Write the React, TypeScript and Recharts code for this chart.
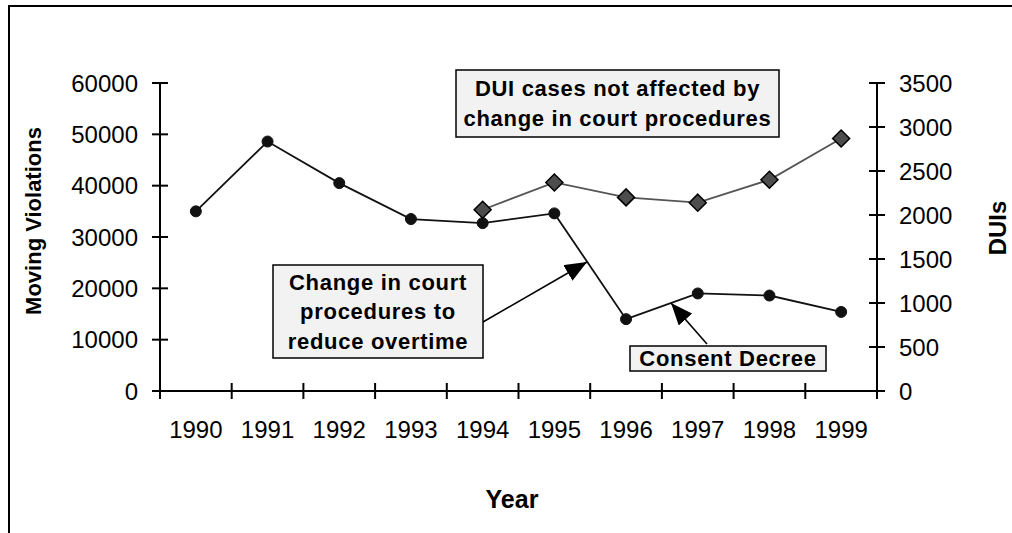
import { LineChart, Line, XAxis, YAxis } from "recharts";

const years = ["1990", "1991", "1992", "1993", "1994", "1995", "1996", "1997", "1998", "1999"];
const movingViolations = [35000, 48600, 40500, 33500, 32700, 34600, 14000, 19000, 18600, 15400];
const duiCases: (number | null)[] = [null, null, null, null, 2060, 2370, 2200, 2140, 2400, 2870];
const leftTicks = [0, 10000, 20000, 30000, 40000, 50000, 60000];
const rightTicks = [0, 500, 1000, 1500, 2000, 2500, 3000, 3500];

// each year sits in the middle of its slot; tick marks go on the slot edges
const data = years.map((year, i) => ({
  pos: i + 0.5,
  year,
  moving: movingViolations[i],
  dui: duiCases[i],
}));
const slotEdges = years.map((_, i) => i).concat(years.length);
const xTicks = [...slotEdges, ...data.map((d) => d.pos)].sort((a, b) => a - b);

const FONT = "'Liberation Sans', Arial, sans-serif";
const TICK = 8;

function XTick({ x, y, payload }: any) {
  const v = payload.value as number;
  if (Number.isInteger(v)) {
    return <line x1={x} x2={x} y1={y - TICK} y2={y + TICK} stroke="#000" strokeWidth={2} />;
  }
  return (
    <text x={x} y={y + 47} textAnchor="middle" fontSize={24} fontFamily={FONT} fill="#000">
      {years[Math.floor(v)]}
    </text>
  );
}

function LeftTick({ x, y, payload }: any) {
  return (
    <g>
      <line x1={x - TICK} x2={x + TICK} y1={y} y2={y} stroke="#000" strokeWidth={2} />
      <text x={x - 22} y={y} dy="0.36em" textAnchor="end" fontSize={24} fontFamily={FONT} fill="#000">
        {payload.value}
      </text>
    </g>
  );
}

function RightTick({ x, y, payload }: any) {
  return (
    <g>
      <line x1={x - TICK} x2={x + TICK} y1={y} y2={y} stroke="#000" strokeWidth={2} />
      <text x={x + 22} y={y} dy="0.36em" textAnchor="start" fontSize={24} fontFamily={FONT} fill="#000">
        {payload.value}
      </text>
    </g>
  );
}

function Diamond(props: any) {
  const { cx, cy, index } = props;
  if (cx == null || cy == null) return <g key={index} />;
  const r = 8.5;
  return (
    <polygon
      key={index}
      points={`${cx},${cy - r} ${cx + r},${cy} ${cx},${cy + r} ${cx - r},${cy}`}
      fill="#4d4d4d"
      stroke="#000"
      strokeWidth={1.5}
    />
  );
}

// annotation boxes drawn over the chart
function NoteBox({ x, y, w, h, lines, lineGap }: { x: number; y: number; w: number; h: number; lines: string[]; lineGap: number }) {
  const cx = x + w / 2;
  const first = y + h / 2 - ((lines.length - 1) * lineGap) / 2;
  return (
    <g>
      <rect x={x} y={y} width={w} height={h} fill="#f2f2f2" stroke="#000" strokeWidth={1.5} />
      {lines.map((t, i) => (
        <text
          key={t}
          x={cx}
          y={first + i * lineGap}
          dy="0.36em"
          textAnchor="middle"
          fontSize={22}
          fontWeight="bold"
          letterSpacing={0.7}
          fontFamily={FONT}
          fill="#000"
        >
          {t}
        </text>
      ))}
    </g>
  );
}

export default function App() {
  return (
    <div
      style={{
        position: "absolute",
        left: 0,
        top: 0,
        width: 1012,
        height: 533,
        overflow: "hidden",
        background: "#fff",
      }}
    >
      <LineChart width={1012} height={533} data={data} margin={{ top: 83, right: 0, bottom: 0, left: 0 }}>
        <XAxis
          type="number"
          dataKey="pos"
          domain={[0, 10]}
          ticks={xTicks}
          interval={0}
          height={142}
          tickSize={0}
          tickMargin={0}
          tickLine={false}
          axisLine={{ stroke: "#000", strokeWidth: 2 }}
          tick={<XTick />}
        />
        <YAxis
          yAxisId="left"
          domain={[0, 60000]}
          ticks={leftTicks}
          width={160}
          tickSize={0}
          tickMargin={0}
          tickLine={false}
          axisLine={{ stroke: "#000", strokeWidth: 2 }}
          tick={<LeftTick />}
        />
        <YAxis
          yAxisId="right"
          orientation="right"
          domain={[0, 3500]}
          ticks={rightTicks}
          width={135}
          tickSize={0}
          tickMargin={0}
          tickLine={false}
          axisLine={{ stroke: "#000", strokeWidth: 2 }}
          tick={<RightTick />}
        />
        <Line
          yAxisId="left"
          type="linear"
          dataKey="moving"
          stroke="#111"
          strokeWidth={1.8}
          dot={{ r: 5.5, fill: "#111", stroke: "#111", strokeWidth: 1 }}
          activeDot={false}
          isAnimationActive={false}
        />
        <Line
          yAxisId="right"
          type="linear"
          dataKey="dui"
          stroke="#555"
          strokeWidth={1.8}
          dot={<Diamond />}
          activeDot={false}
          isAnimationActive={false}
        />
      </LineChart>

      <svg
        width={1012}
        height={533}
        style={{ position: "absolute", left: 0, top: 0, pointerEvents: "none" }}
      >
        <defs>
          <marker
            id="arrowHead"
            markerUnits="userSpaceOnUse"
            markerWidth={22}
            markerHeight={18}
            refX={22}
            refY={9}
            orient="auto"
          >
            <path d="M0,0 L22,9 L0,18 Z" fill="#000" />
          </marker>
        </defs>

        {/* outer frame, cut off at the right and bottom */}
        <rect x={9} y={6} width={1100} height={600} fill="none" stroke="#000" strokeWidth={2} />

        <text
          transform="translate(41,221) rotate(-90)"
          textAnchor="middle"
          fontSize={22}
          fontWeight="bold"
          fontFamily={FONT}
          fill="#000"
        >
          Moving Violations
        </text>
        <text
          transform="translate(1006,228) rotate(-90)"
          textAnchor="middle"
          fontSize={24}
          fontWeight="bold"
          fontFamily={FONT}
          fill="#000"
        >
          DUIs
        </text>
        <text x={512} y={508} textAnchor="middle" fontSize={25} fontWeight="bold" fontFamily={FONT} fill="#000">
          Year
        </text>

        <NoteBox
          x={456}
          y={70}
          w={323}
          h={67}
          lines={["DUI cases not affected by", "change in court procedures"]}
          lineGap={30}
        />

        <line x1={483} y1={322} x2={587} y2={262} stroke="#000" strokeWidth={1.6} markerEnd="url(#arrowHead)" />
        <NoteBox
          x={273}
          y={265}
          w={210}
          h={93}
          lines={["Change in court", "procedures to", "reduce overtime"]}
          lineGap={29.5}
        />

        <line x1={707} y1={344} x2={671} y2={303} stroke="#000" strokeWidth={1.6} markerEnd="url(#arrowHead)" />
        <NoteBox x={630} y={346} w={196} h={25} lines={["Consent Decree"]} lineGap={0} />
      </svg>
    </div>
  );
}
